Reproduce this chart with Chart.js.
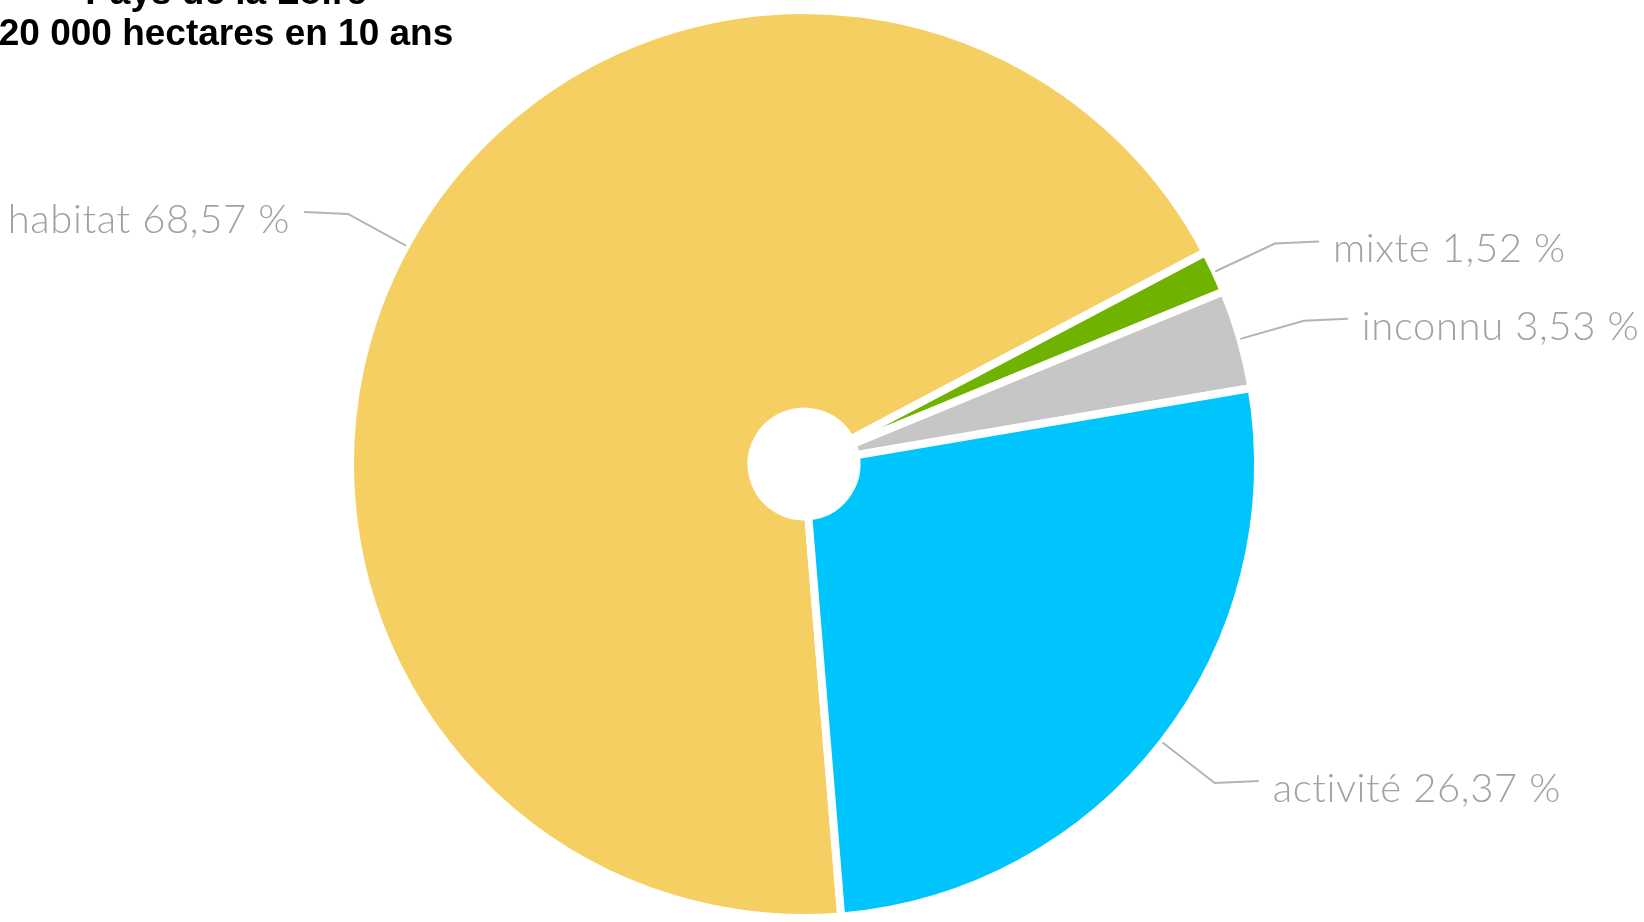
<!DOCTYPE html>
<html lang="fr">
<head>
    <meta charset="UTF-8">
    <title>Pays de la Loire - 20 000 hectares en 10 ans</title>
    <script src="https://cdn.jsdelivr.net/npm/chart.js@4.4.0/dist/chart.umd.min.js"></script>
    <style>
        html, body { margin: 0; padding: 0; background: #fff; }
        #wrap { position: relative; width: 1644px; height: 922px; }
    </style>
</head>
<body>
    <div id="wrap"><canvas id="pieChart"></canvas></div>

    <script>
        // Données
        var titleLines = ["Pays de la Loire", "20 000 hectares en 10 ans"];
        var categories = ["habitat", "mixte", "inconnu", "activité"];
        var values = [68.57, 1.52, 3.53, 26.37];
        var colors = ["#F6CF63", "#6FB300", "#C6C6C6", "#00C5FC"];

        function fmt(v) {
            return v.toFixed(2).replace(".", ",") + " %";
        }

        // titre en deux lignes, centrées l'une sur l'autre
        var titlePlugin = {
            id: 'titreHaut',
            afterDraw: function (chart) {
                var ctx = chart.ctx;
                ctx.save();
                ctx.font = "bold 37px 'Liberation Sans', Arial, sans-serif";
                ctx.fillStyle = "#000";
                ctx.textAlign = "center";
                ctx.textBaseline = "alphabetic";
                titleLines.forEach(function (t, i) {
                    ctx.fillText(t, 226, 4 + i * 41);
                });
                ctx.restore();
            }
        };

        // étiquettes avec traits de rappel
        var labelPlugin = {
            id: 'etiquettes',
            afterDatasetsDraw: function (chart) {
                var ctx = chart.ctx;
                var meta = chart.getDatasetMeta(0);
                ctx.save();
                ctx.font = "300 40px Lato, 'Open Sans', sans-serif";
                ctx.letterSpacing = "0.6px";
                ctx.textBaseline = "middle";
                meta.data.forEach(function (arc, i) {
                    var p = arc.getProps(['x', 'y', 'startAngle', 'endAngle', 'outerRadius'], true);
                    var mid = (p.startAngle + p.endAngle) / 2;
                    var c = Math.cos(mid), s = Math.sin(mid);
                    var side = c >= 0 ? 1 : -1;
                    var x0 = p.x + c * p.outerRadius, y0 = p.y + s * p.outerRadius;
                    var x1 = p.x + c * (p.outerRadius + 66), y1 = p.y + s * (p.outerRadius + 66);
                    var x2 = x1 + side * 44;
                    ctx.strokeStyle = "#b4b4b4";
                    ctx.lineWidth = 2;
                    ctx.beginPath();
                    ctx.moveTo(x0, y0);
                    ctx.lineTo(x1, y1);
                    ctx.lineTo(x2, y1 - 2);
                    ctx.stroke();
                    ctx.fillStyle = "#a2a2a2";
                    ctx.textAlign = side > 0 ? "left" : "right";
                    ctx.fillText(categories[i] + " " + fmt(values[i]), x2 + side * 14, y1 + 6);
                });
                ctx.restore();
            }
        };

        var pieChart = new Chart(document.getElementById('pieChart'), {
            type: 'doughnut',
            data: {
                labels: categories,
                datasets: [{
                    data: values,
                    backgroundColor: colors,
                    borderColor: '#ffffff',
                    borderWidth: 8
                }]
            },
            options: {
                responsive: true,
                maintainAspectRatio: false,
                animation: false,
                rotation: 175.3,
                radius: 454,
                cutout: 52,
                layout: { padding: { left: 0, right: 36, top: 10, bottom: 4 } },
                plugins: {
                    legend: { display: false },
                    tooltip: { enabled: false },
                    title: { display: false }
                }
            },
            plugins: [labelPlugin, titlePlugin]
        });
    </script>
</body>
</html>
